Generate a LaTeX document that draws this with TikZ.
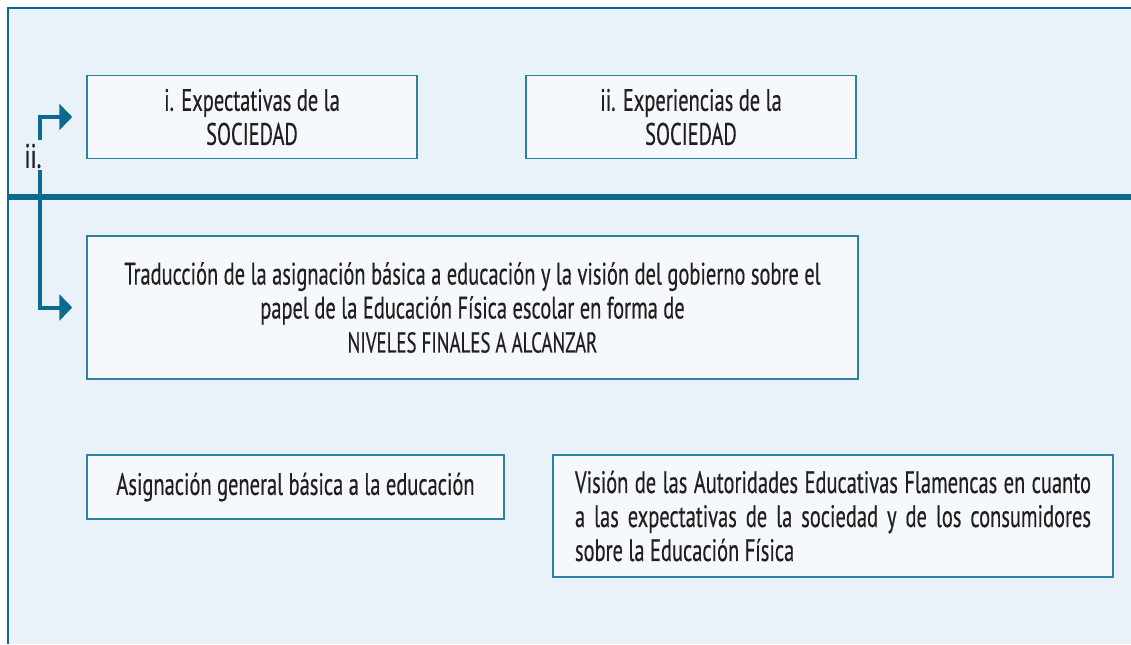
\documentclass[tikz,border=0pt]{standalone}
\usepackage{fontspec}
\setmainfont{PT Sans}[FakeStretch=0.66, FakeBold=0.4]
\usetikzlibrary{arrows.meta}

\definecolor{framecol}{HTML}{0B6A8F}
\definecolor{boxline}{HTML}{2F80A5}
\definecolor{panelfill}{HTML}{EAF2F9}
\definecolor{boxfill}{HTML}{F6F9FC}
\definecolor{txtcol}{HTML}{231F20}

\begin{document}
\begin{tikzpicture}[x=0.5pt, y=-0.5pt, line join=miter]
      \tikzstyle{box}=[draw=boxline, fill=boxfill, line width=0.75pt, inner sep=0pt,
        text=txtcol, font=\fontsize{15.5}{17}\selectfont, align=center]
      \tikzstyle{topbox}=[box, minimum width=165pt, minimum height=41.5pt]
      \tikzstyle{flow}=[draw=framecol, line width=2pt, -{Triangle[length=6.5pt, width=13pt]}, shorten >=7pt]

      \useasboundingbox (0,0) rectangle (1131,644);
      % panel
      \fill[panelfill] (8,8) rectangle (1131,644);
      \draw[framecol, line width=1pt] (8,644) -- (8,8) -- (1131,8);
      \draw[framecol, line width=3pt] (8,197) -- (1131,197);

      \node[topbox] (expect) at (252,117) {i. Expectativas de la\\SOCIEDAD};
      \node[topbox] (exper) at (691,117) {ii. Experiencias de la\\SOCIEDAD};
      \node[box, minimum width=385.5pt, minimum height=71.5pt] (transl) at (472.5,307.5)
        {Traducción de la asignación básica a educación y la visión del gobierno sobre el\\
         papel de la Educación Física escolar en forma de\\
         {\fontsize{14.3}{17}\selectfont NIVELES FINALES A ALCANZAR}};
      \node[box, minimum width=208.5pt, minimum height=32pt] (assign) at (295.5,487)
        {Asignación general básica a la educación};
      \node[box, minimum width=280pt, minimum height=61pt, text width=258pt, align=justify] (vision) at (833,516)
        {\hyphenpenalty=10000 Visión de las Autoridades Educativas Flamencas en cuanto\linebreak
         a las expectativas de la sociedad y de los consumidores\linebreak
         sobre la Educación Física};

      \node[text=txtcol, font=\fontsize{17}{18}\selectfont, inner sep=0pt] (lbl) at (33,156) {ii.};
      \coordinate (gapup) at (40,140);
      \coordinate (gapdown) at (40,170);

      \draw[flow] (gapup) |- (expect.west);
      \draw[flow] (gapdown) |- (transl.west);
\end{tikzpicture}
\end{document}
